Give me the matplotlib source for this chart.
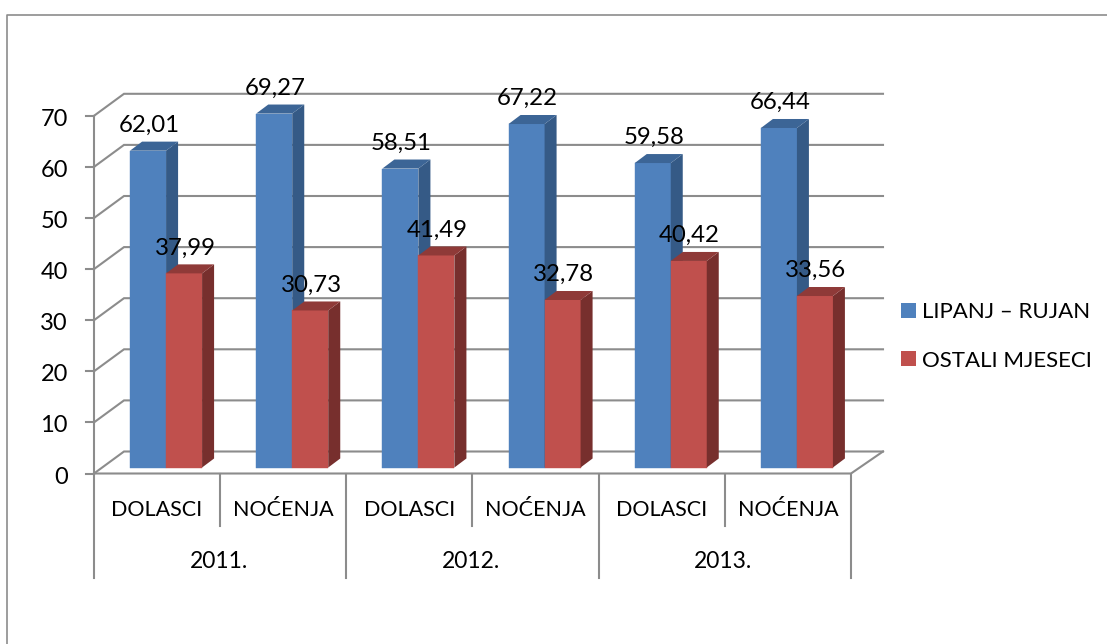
import matplotlib
matplotlib.use('Agg')
import matplotlib.pyplot as plt
from matplotlib.patches import Patch, Polygon, Rectangle

W, H = 1107, 644

# data
years = ['2011.', '2012.', '2013.']
categories = ['DOLASCI', 'NOĆENJA', 'DOLASCI', 'NOĆENJA', 'DOLASCI', 'NOĆENJA']
lipanj_rujan = [62.01, 69.27, 58.51, 67.22, 59.58, 66.44]
ostali = [37.99, 30.73, 41.49, 32.78, 40.42, 33.56]
series_names = ['LIPANJ – RUJAN', 'OSTALI MJESECI']
y_ticks = [0, 10, 20, 30, 40, 50, 60, 70]

plt.rcParams['font.family'] = ['Lato', 'DejaVu Sans']

BLUE = ('#4F81BD', '#3C6596', '#355A86')
RED = ('#C0504D', '#8F3A38', '#772F2D')
GRID = '#8C8C8C'

# axes is the front plane of the box, in pixels: x 94-851, value 0 at y=473
fig = plt.figure(figsize=(W / 100, H / 100), dpi=100)
fig.patch.set_facecolor('white')
left, right, bottom = 94, 851, 473.5
px_per_unit = 5.11
top = bottom - 70 * px_per_unit
ax = fig.add_axes([left / W, 1 - bottom / H, (right - left) / W, (bottom - top) / H])
ax.set_xlim(0, len(categories))
ax.set_ylim(0, 70)
ax.axis('off')

dx = 1 / ((right - left) / len(categories))  # one pixel in x data units
dy = 1 / px_per_unit  # one pixel in y data units
n = len(categories)

# back wall and floor
for v in y_ticks:
    xs = [0, 30 * dx, n + 32 * dx]
    ys = [v, v + 22 * dy, v + 22 * dy]
    ax.plot(xs, ys, color=GRID, lw=1.5, clip_on=False, zorder=1, solid_joinstyle='miter')
    ax.plot([-8 * dx, 0], [v, v], color=GRID, lw=1.5, clip_on=False, zorder=1)
    ax.text(-26 * dx, v - 1.5 * dy, str(v), ha='right', va='center_baseline', fontsize=17, color='black')
ax.plot([0, 0], [0, 70], color=GRID, lw=1.5, clip_on=False, zorder=1)
ax.plot([0, n, n + 32 * dx], [0, 0, 22 * dy], color=GRID, lw=1.5, clip_on=False, zorder=1)

# bars are 36 px wide with a 12x9 px side, standing 9 px back from the front edge
bar_w = 36 * dx
off_x = 9 * dx
off_y = 6 * dy
depth_x = 12 * dx
depth_y = 9 * dy


def draw_bar(x0, val, cols):
    base = off_y
    ax.add_patch(Rectangle((x0, base), bar_w, val, fc=cols[0], ec=cols[0], lw=0.3, zorder=3, clip_on=False))
    ax.add_patch(Polygon([(x0 + bar_w, base), (x0 + bar_w + depth_x, base + depth_y),
                          (x0 + bar_w + depth_x, base + val + depth_y), (x0 + bar_w, base + val)],
                         fc=cols[2], ec='none', zorder=3, clip_on=False))
    ax.add_patch(Polygon([(x0, base + val), (x0 + depth_x, base + val + depth_y),
                          (x0 + bar_w + depth_x, base + val + depth_y), (x0 + bar_w, base + val)],
                         fc=cols[1], ec='none', zorder=3, clip_on=False))


for i in range(n):
    x_mid = i + 0.5 + off_x
    draw_bar(x_mid - bar_w, lipanj_rujan[i], BLUE)
    draw_bar(x_mid, ostali[i], RED)

# value labels
for i in range(n):
    x_mid = i + 0.5 + off_x
    ax.text(x_mid - bar_w / 2 + 1 * dx, lipanj_rujan[i] + off_y + 25.5 * dy, f'{lipanj_rujan[i]:.2f}'.replace('.', ','),
            ha='center', va='center', fontsize=17.3, zorder=5)
    ax.text(x_mid + bar_w / 2 + 1 * dx, ostali[i] + off_y + 25.5 * dy, f'{ostali[i]:.2f}'.replace('.', ','),
            ha='center', va='center', fontsize=17.3, zorder=5)

# multi level category axis
for i in range(n + 1):
    low = 104 if i % 2 == 0 else 52
    ax.plot([i, i], [0, -low * dy], color=GRID, lw=1.5, clip_on=False, zorder=1)
for i, name in enumerate(categories):
    ax.text(i + 0.5, -36 * dy, name, ha='center', va='center', fontsize=15.5)
for i, year in enumerate(years):
    ax.text(2 * i + 1 - 1.5 * dx, -88 * dy, year, ha='center', va='center', fontsize=16.5)

# legend
handles = [Patch(fc=BLUE[0], ec='none'), Patch(fc=RED[0], ec='none')]
fig.legend(handles, series_names, loc='upper left', bbox_to_anchor=(892 / W, 1 - 293 / H),
           frameon=False, fontsize=16, handlelength=0.66, handleheight=0.66,
           handletextpad=0.3, labelspacing=1.3, borderpad=0.2, borderaxespad=0.2)

# chart frame, open on the right and at the bottom
fig.add_artist(plt.Line2D([7 / W, 7 / W, 1], [0, 1 - 14.5 / H, 1 - 14.5 / H], color=GRID, lw=1.2))

fig.savefig('out.png', dpi=100)
